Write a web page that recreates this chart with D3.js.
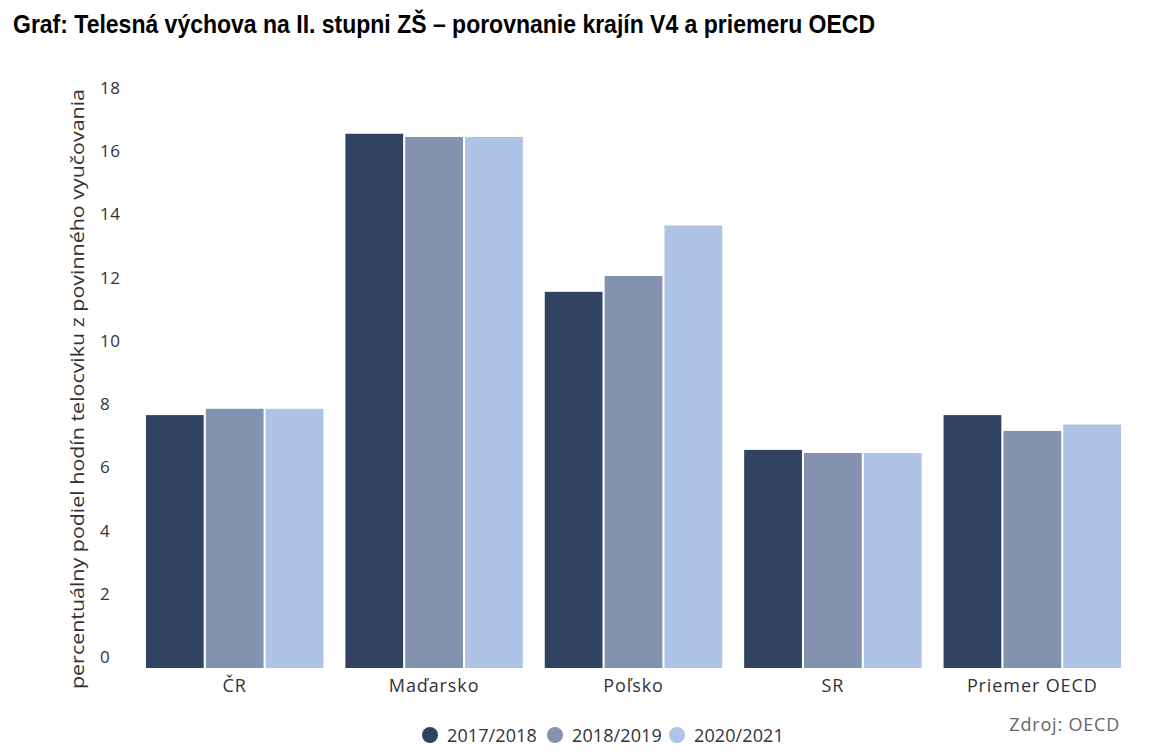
<!DOCTYPE html>
<html><head><meta charset="utf-8">
<script src="https://cdn.jsdelivr.net/npm/d3@7"></script>
<style>
body{margin:0;background:#fff;}
svg text{font-family:"Open Sans","Lato","Noto Sans",sans-serif;}
</style></head>
<body><svg id="c" width="1154" height="756"></svg>
<script>
const categories = ["ČR","Maďarsko","Poľsko","SR","Priemer OECD"];
const seriesNames = ["2017/2018","2018/2019","2020/2021"];
const values2017 = [8.0, 16.9, 11.9, 6.9, 8.0];
const values2018 = [8.2, 16.8, 12.4, 6.8, 7.5];
const values2020 = [8.2, 16.8, 14.0, 6.8, 7.7];
const yTicks = [0,2,4,6,8,10,12,14,16,18];
const colors = ["#324362","#8392ae","#afc3e6"];

const seriesValues = [values2017, values2018, values2020];
const svg = d3.select("#c");

svg.append("text").attr("x",13).attr("y",33)
  .style("font-family","'Liberation Sans Narrow','Arial Narrow','Liberation Sans',sans-serif")
  .style("font-weight","bold").style("font-size","25px").attr("fill","#000")
  .attr("textLength",862).attr("lengthAdjust","spacingAndGlyphs")
  .text("Graf: Telesná výchova na II. stupni ZŠ – porovnanie krajín V4 a priemeru OECD");

const y = d3.scaleLinear().domain([0,18]).range([668,99]);
const x0 = d3.scaleBand().domain(categories).range([135,1132]).paddingInner(0.11).paddingOuter(0.055);
const x1 = d3.scaleBand().domain(seriesNames).range([0,x0.bandwidth()]).paddingInner(0.035);

const g = svg.append("g");
categories.forEach((c,ci)=>{
  seriesNames.forEach((s,si)=>{
    const v = seriesValues[si][ci];
    g.append("rect").attr("x",x0(c)+x1(s)).attr("y",y(v))
      .attr("width",x1.bandwidth()).attr("height",y(0)-y(v))
      .attr("fill",colors[si]);
  });
});

// y axis labels
const ya = svg.append("g").attr("transform","translate(100,-11)")
  .call(d3.axisLeft(y).tickValues(yTicks).tickSize(0).tickPadding(0));
ya.select(".domain").remove();
ya.selectAll("text").attr("text-anchor","start").attr("x",0)
  .style("font-family","'Open Sans',sans-serif")
  .style("font-size","17px").style("letter-spacing","0.5px").attr("fill","#333");

svg.append("text").attr("transform","translate(84,389) rotate(-90)")
  .attr("text-anchor","middle").style("font-size","18px").attr("fill","#333")
  .attr("textLength",600).attr("lengthAdjust","spacingAndGlyphs")
  .text("percentuálny podiel hodín telocviku z povinného vyučovania");

// x axis
const xa = svg.append("g").attr("transform","translate(0,668)")
  .call(d3.axisBottom(x0).tickSize(0).tickPadding(11));
xa.select(".domain").remove();
xa.selectAll("text").style("font-family","'Open Sans',sans-serif")
  .style("font-size","18px").style("letter-spacing","0.9px").attr("fill","#333");

// legend
const legX = [430,555,677];
seriesNames.forEach((s,i)=>{
  svg.append("circle").attr("cx",legX[i]).attr("cy",735).attr("r",8).attr("fill",colors[i]);
  svg.append("text").attr("x",legX[i]+17).attr("y",742).style("font-size","18px")
    .style("letter-spacing","0.1px").attr("fill","#333").text(s);
});
svg.append("text").attr("x",1120).attr("y",731).attr("text-anchor","end")
  .style("font-size","18px").style("letter-spacing","0.8px").attr("fill","#666").text("Zdroj: OECD");
</script></body></html>
